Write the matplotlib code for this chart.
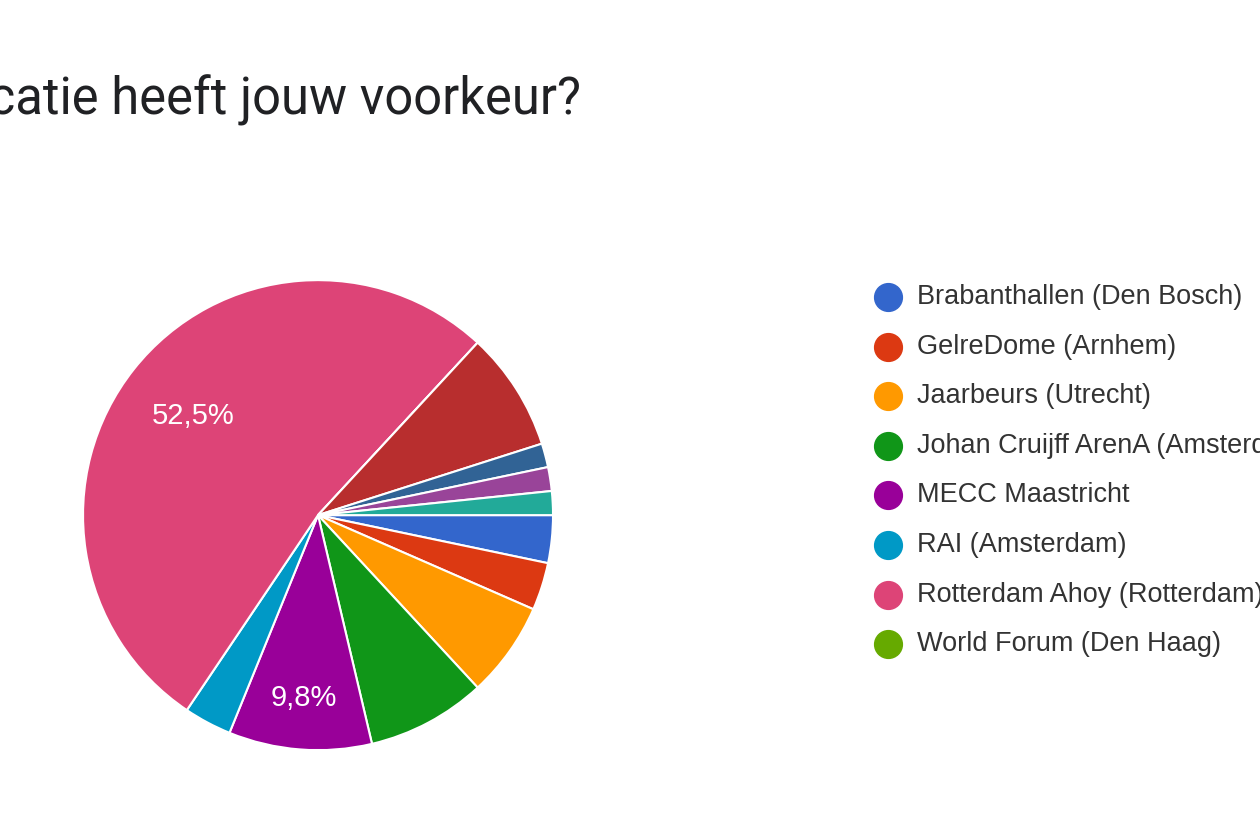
import matplotlib.pyplot as plt
import numpy as np

labels = ["Brabanthallen (Den Bosch)", "GelreDome (Arnhem)", "Jaarbeurs (Utrecht)",
          "Johan Cruijff ArenA (Amsterdam)", "MECC Maastricht", "RAI (Amsterdam)",
          "Rotterdam Ahoy (Rotterdam)", "World Forum (Den Haag)",
          "Overig 1", "Overig 2", "Overig 3", "Overig 4"]
counts = [2, 2, 4, 5, 6, 2, 32, 0, 5, 1, 1, 1]
colors = ["#3366cc", "#dc3912", "#ff9900", "#109618", "#990099", "#0099c6",
          "#dd4477", "#66aa00", "#b82e2e", "#316395", "#994499", "#22aa99"]
legend_count = 8

fig = plt.figure(figsize=(12.6, 8.4), dpi=100)
ax = fig.add_axes([0.0659, 0.107, 0.373, 0.5595])
wedges, _ = ax.pie(counts, colors=colors, startangle=0, counterclock=False,
                   wedgeprops=dict(edgecolor="white", linewidth=1.5))
ax.set_xlim(-1, 1)
ax.set_ylim(-1, 1)
ax.set_aspect("equal")

total = sum(counts)
dist = {6: 0.68, 4: 0.78}
for i, w in enumerate(wedges):
    pct = counts[i] / total * 100
    if pct < 9:
        continue
    th = np.deg2rad((w.theta1 + w.theta2) / 2)
    r = dist.get(i, 0.7)
    ax.text(r * np.cos(th), r * np.sin(th), f"{pct:.1f}%".replace(".", ","),
            ha="center", va="center", color="white", fontsize=21,
            family="Liberation Sans")

fig.text(-0.16, 0.88, "Welke locatie heeft jouw voorkeur?", fontsize=36.5,
         family="Roboto", va="center", ha="left", color="#202124")

for i in range(legend_count):
    y = 1 - (297 + i * 49.6) / 840
    fig.lines.append(plt.Line2D([888 / 1260], [y], marker="o", markersize=20,
                                color=colors[i], transform=fig.transFigure))
    fig.text(917 / 1260, y, labels[i], fontsize=19.5, family="Liberation Sans",
             va="center", ha="left", color="#333333")

fig.savefig("out.png", dpi=100)
